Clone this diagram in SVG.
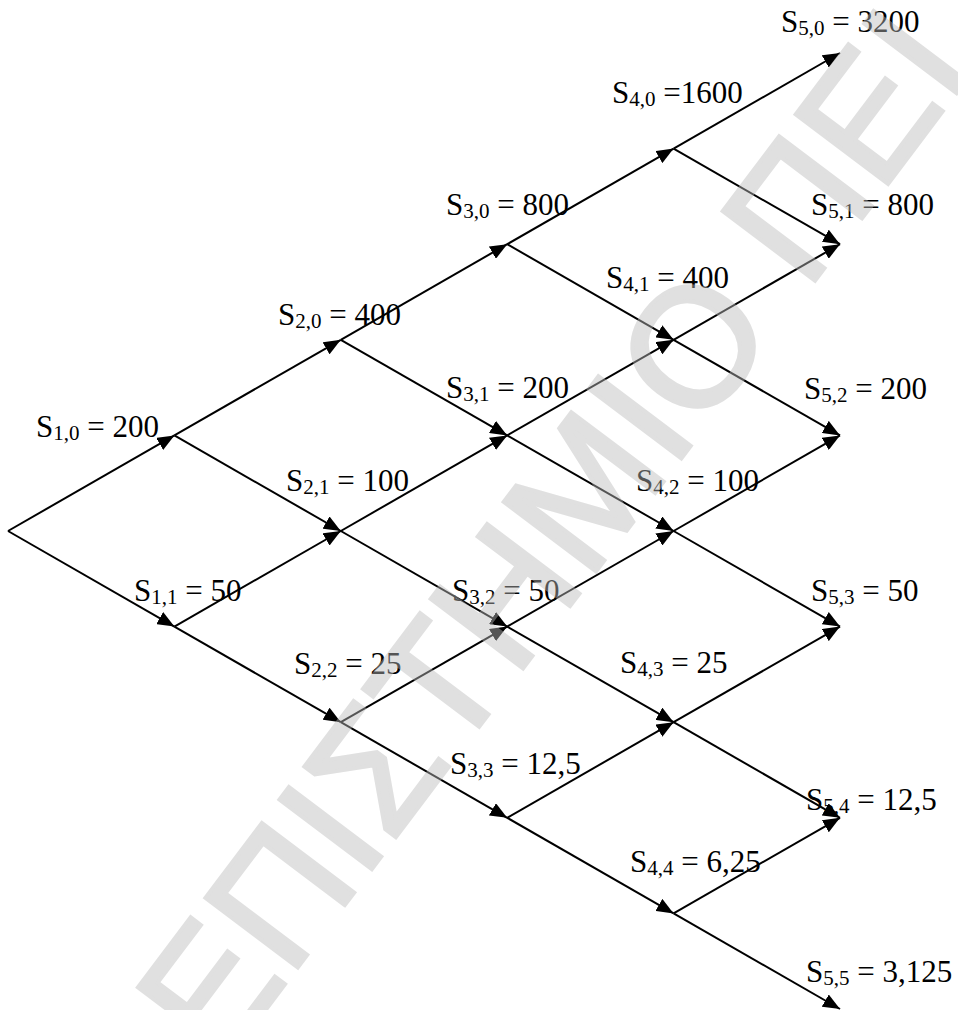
<svg xmlns="http://www.w3.org/2000/svg" width="958" height="1010" viewBox="0 0 958 1010">
<defs>
<marker id="ah" markerUnits="userSpaceOnUse" markerWidth="17" markerHeight="14" refX="17" refY="7" orient="auto"><path d="M0,0 L17,7 L0,14 z" fill="#000"/></marker>
</defs>
<style>
.e{stroke:#000;stroke-width:2;fill:none;marker-end:url(#ah)}
.l{font-family:"Liberation Serif","Times New Roman",serif;font-size:31px;fill:#000}
.s{font-size:21px}
.wm{font-family:"Liberation Sans",Arial,sans-serif;font-size:168px;fill:#bbb;stroke:#bbb;stroke-width:4}
</style>
<rect width="958" height="1010" fill="#fff"/>
<g id="connectors">
<line class="e" x1="8" y1="531" x2="174.4" y2="435.4"/>
<line class="e" x1="8" y1="531" x2="174.4" y2="626.6"/>
<line class="e" x1="174.4" y1="435.4" x2="340.8" y2="339.8"/>
<line class="e" x1="174.4" y1="435.4" x2="340.8" y2="531"/>
<line class="e" x1="174.4" y1="626.6" x2="340.8" y2="531"/>
<line class="e" x1="174.4" y1="626.6" x2="340.8" y2="722.2"/>
<line class="e" x1="340.8" y1="339.8" x2="507.2" y2="244.2"/>
<line class="e" x1="340.8" y1="339.8" x2="507.2" y2="435.4"/>
<line class="e" x1="340.8" y1="531" x2="507.2" y2="435.4"/>
<line class="e" x1="340.8" y1="531" x2="507.2" y2="626.6"/>
<line class="e" x1="340.8" y1="722.2" x2="507.2" y2="626.6"/>
<line class="e" x1="340.8" y1="722.2" x2="507.2" y2="817.8"/>
<line class="e" x1="507.2" y1="244.2" x2="673.6" y2="148.6"/>
<line class="e" x1="507.2" y1="244.2" x2="673.6" y2="339.8"/>
<line class="e" x1="507.2" y1="435.4" x2="673.6" y2="339.8"/>
<line class="e" x1="507.2" y1="435.4" x2="673.6" y2="531"/>
<line class="e" x1="507.2" y1="626.6" x2="673.6" y2="531"/>
<line class="e" x1="507.2" y1="626.6" x2="673.6" y2="722.2"/>
<line class="e" x1="507.2" y1="817.8" x2="673.6" y2="722.2"/>
<line class="e" x1="507.2" y1="817.8" x2="673.6" y2="913.4"/>
<line class="e" x1="673.6" y1="148.6" x2="840" y2="53"/>
<line class="e" x1="673.6" y1="148.6" x2="840" y2="244.2"/>
<line class="e" x1="673.6" y1="339.8" x2="840" y2="244.2"/>
<line class="e" x1="673.6" y1="339.8" x2="840" y2="435.4"/>
<line class="e" x1="673.6" y1="531" x2="840" y2="435.4"/>
<line class="e" x1="673.6" y1="531" x2="840" y2="626.6"/>
<line class="e" x1="673.6" y1="722.2" x2="840" y2="626.6"/>
<line class="e" x1="673.6" y1="722.2" x2="840" y2="817.8"/>
<line class="e" x1="673.6" y1="913.4" x2="840" y2="817.8"/>
<line class="e" x1="673.6" y1="913.4" x2="840" y2="1009"/>
</g>
<g id="n1_0"><text class="l" x="36" y="437">S<tspan class="s" dy="3">1,0</tspan><tspan dy="-3"> = 200</tspan></text></g>
<g id="n1_1"><text class="l" x="134" y="601">S<tspan class="s" dy="3">1,1</tspan><tspan dy="-3"> = 50</tspan></text></g>
<g id="n2_0"><text class="l" x="278" y="325">S<tspan class="s" dy="3">2,0</tspan><tspan dy="-3"> = 400</tspan></text></g>
<g id="n2_1"><text class="l" x="286" y="491">S<tspan class="s" dy="3">2,1</tspan><tspan dy="-3"> = 100</tspan></text></g>
<g id="n2_2"><text class="l" x="294" y="674">S<tspan class="s" dy="3">2,2</tspan><tspan dy="-3"> = 25</tspan></text></g>
<g id="n3_0"><text class="l" x="446" y="215">S<tspan class="s" dy="3">3,0</tspan><tspan dy="-3"> = 800</tspan></text></g>
<g id="n3_1"><text class="l" x="446" y="398">S<tspan class="s" dy="3">3,1</tspan><tspan dy="-3"> = 200</tspan></text></g>
<g id="n3_2"><text class="l" x="452" y="601">S<tspan class="s" dy="3">3,2</tspan><tspan dy="-3"> = 50</tspan></text></g>
<g id="n3_3"><text class="l" x="450" y="774">S<tspan class="s" dy="3">3,3</tspan><tspan dy="-3"> = 12,5</tspan></text></g>
<g id="n4_0"><text class="l" x="612" y="103">S<tspan class="s" dy="3">4,0</tspan><tspan dy="-3"> =1600</tspan></text></g>
<g id="n4_1"><text class="l" x="606" y="288">S<tspan class="s" dy="3">4,1</tspan><tspan dy="-3"> = 400</tspan></text></g>
<g id="n4_2"><text class="l" x="636" y="491">S<tspan class="s" dy="3">4,2</tspan><tspan dy="-3"> = 100</tspan></text></g>
<g id="n4_3"><text class="l" x="620" y="673">S<tspan class="s" dy="3">4,3</tspan><tspan dy="-3"> = 25</tspan></text></g>
<g id="n4_4"><text class="l" x="630" y="872">S<tspan class="s" dy="3">4,4</tspan><tspan dy="-3"> = 6,25</tspan></text></g>
<g id="n5_0"><text class="l" x="781" y="32">S<tspan class="s" dy="3">5,0</tspan><tspan dy="-3"> = 3200</tspan></text></g>
<g id="n5_1"><text class="l" x="811" y="215">S<tspan class="s" dy="3">5,1</tspan><tspan dy="-3"> = 800</tspan></text></g>
<g id="n5_2"><text class="l" x="804" y="399">S<tspan class="s" dy="3">5,2</tspan><tspan dy="-3"> = 200</tspan></text></g>
<g id="n5_3"><text class="l" x="811" y="601">S<tspan class="s" dy="3">5,3</tspan><tspan dy="-3"> = 50</tspan></text></g>
<g id="n5_4"><text class="l" x="806" y="810">S<tspan class="s" dy="3">5,4</tspan><tspan dy="-3"> = 12,5</tspan></text></g>
<g id="n5_5"><text class="l" x="806" y="982">S<tspan class="s" dy="3">5,5</tspan><tspan dy="-3"> = 3,125</tspan></text></g>
<g id="watermark" opacity="0.45"><text class="wm" transform="translate(222,1068) rotate(-53)">ΕΠΙΣΤΗΜΙΟ ΠΕΙ</text></g>
</svg>
